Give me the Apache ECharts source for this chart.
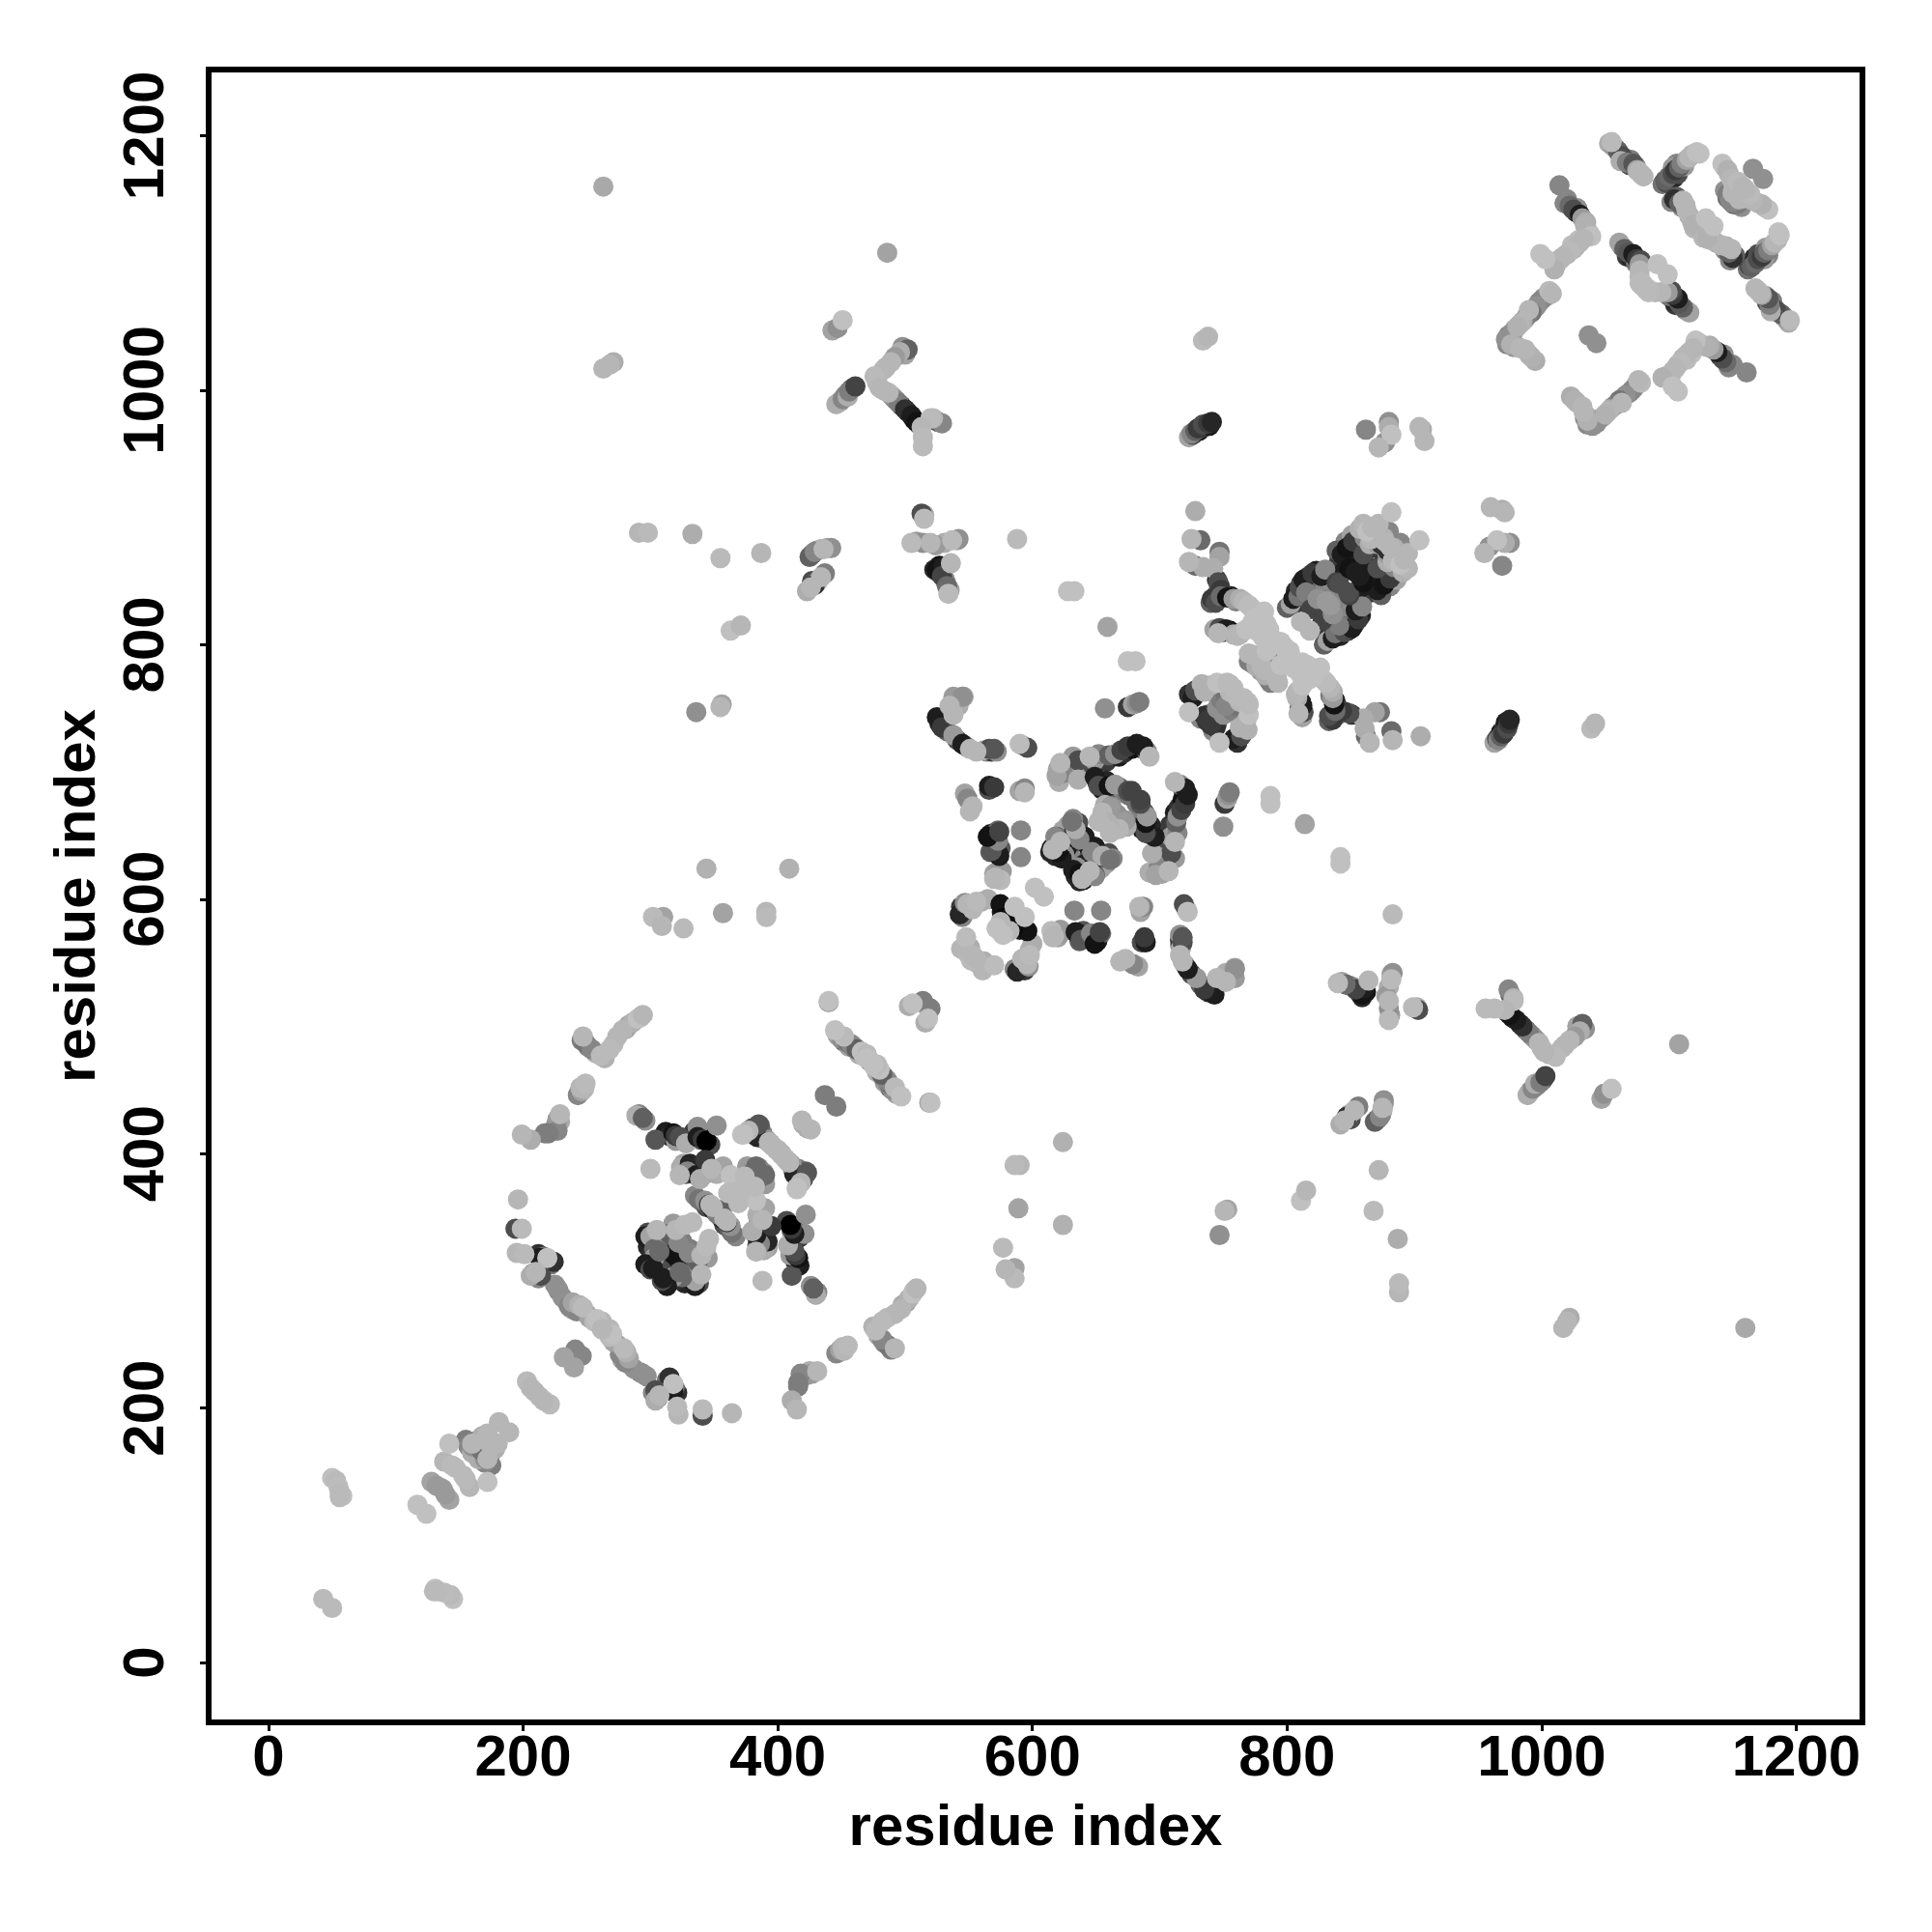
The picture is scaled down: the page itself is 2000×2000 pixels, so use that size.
<!DOCTYPE html>
<html><head><meta charset="utf-8">
<style>html,body{margin:0;padding:0;background:#fff}#c{width:2000px;height:2000px}</style>
<script src="https://cdn.jsdelivr.net/npm/echarts@6/dist/echarts.min.js"></script>
</head><body><div id="c"></div>
<script>
const tickValues = [0,200,400,600,800,1000,1200];
const axisTitle = 'residue index';
// Contacts as [i, j, strength]; the map is symmetric, so each is drawn at (i,j) and (j,i).
const farContacts = [[263,1160,12],[486,1108,15],[263,1017,5],[268,1020,5],[271,1022,10],[443,1047,15],[447,1049,25],[451,1055,0],
[734,1039,3],[738,1042,5],[291,888,5],[298,888,3],[333,887,10],[355,868,3],[387,872,5],[363,811,0],[371,815,5],[336,747,25],[355,751,5],[356,753,15],
[588,883,3],[628,842,0],[633,842,0],[659,814,15],[675,787,0],[681,787,0],[344,624,8],[409,624,8],[302,586,3],[310,586,15],[309,579,5],[326,577,3],[357,589,15],[391,590,5],[391,586,3]];
const strandAFine = [[498,1034,25],[500,1028,15],[489,1022,5],[483,1016,5],[478,1006,5],[483,1000,5],[489,996,15],[493,992,30],[497,988,55],[502,983,85],[507,977,95],[511,973,40],[526,975,35],[522,978,5],[458,1001,55],[453,996,25],[449,991,15],[427,871,60],[431,874,35],[434,875,10],[439,876,15],[427,850,60],[431,849,10],[434,853,5],[515,902,10],[526,857,70],[531,852,20],[532,849,30],[527,862,90],[535,843,15],[520,880,5],[531,880,10],[541,882,10]];
const strandA = [[502,1032,50],[496,1030,10],[492,1026,20],[485,1018,10],[476,1011,3],[480,1002,5],[487,998,5],[491,994,25],[495,990,35],[500,985,75],[505,980,85],[509,975,90],[520,978,3],[524,976,50],[529,974,30],[513,971,5],[514,963,3],[514,956,3],
[446,989,10],[451,993,30],[455,995,10],[456,999,35],[461,1003,65],
[436,875,5],[425,869,50],[429,873,30],[442,876,25],[423,842,10],[429,847,75],[426,845,5],[437,856,35],
[513,903,60],[515,899,3],[505,880,3],[509,881,20],[514,880,25],[524,878,20],[537,882,3],[542,883,25],[523,859,80],[525,859,90],[530,861,85],[529,854,65],[533,846,45],[536,864,5],[534,840,3]];
const domainOneOuterFine = [[228,292,30],[234,284,20],[238,278,15],[244,281,8],[250,274,15],[256,268,3],[225,297,25],[242,276,30],[262,268,5],[229,425,10],[226,423,25],[223,418,25],[245,452,5],[244,448,20],[212,321,75],[216,319,40],[208,306,25],[212,302,30],[222,313,40],[246,489,35],[251,484,30],[257,479,10],[264,475,8],[271,486,3],[274,492,5],[281,498,10],[286,503,8],[292,507,5],[447,493,15],[452,488,50],[456,484,15],[460,483,40],[464,478,10],[468,476,3],[473,472,25],[477,468,40],[480,465,30],[484,460,25],[486,458,20],[492,452,3]];
const domainOneOuter = [[248,451,5],[243,446,30],[246,449,15],[229,431,5],[227,427,20],[227,418,30],[220,416,35],[217,416,35],[199,415,5],[206,411,10],
[196,364,5],[194,341,60],[199,341,3],[195,322,5],[201,321,3],[213,318,85],[219,318,0],[224,315,75],[214,304,60],[206,304,10],[210,307,5],
[227,294,25],[231,287,25],[236,280,30],[239,283,15],[247,279,3],[252,271,15],[258,270,0],[262,262,5],[241,246,30],[232,240,15],[203,221,3],[206,216,5],[209,213,5],
[247,492,5],[249,487,40],[254,482,30],[261,477,3],[268,482,3],[278,497,5],[283,501,15],[290,506,0],[294,509,5],[249,455,3],
[445,497,0],[450,490,25],[455,487,40],[458,485,30],[462,482,50],[466,480,0],[470,478,3],[475,470,0],
[503,516,10],[515,518,25],[518,506,0],[520,514,35],[440,519,15],[440,520,0],[437,446,35],[419,426,5],[420,423,10]];
const domainOneCoreFine = [[291,431,30],[296,426,25],[312,417,85],[315,414,80],[320,410,20],[326,411,40],[334,417,70],[339,411,30],[342,414,85],[347,407,60],[326,392,15],[328,384,60],[333,388,25],[340,389,85],[345,385,30],[352,384,10],[298,338,60],[298,327,80],[301,321,75],[299,315,70],[305,340,5],[312,338,25],[310,325,30],[312,315,60],[320,340,5],[322,335,15],[320,328,55],[305,312,40],[309,307,75],[315,308,60],[344,358,60],[349,356,80],[352,353,35],[358,349,5],[360,347,5],[335,367,30],[341,362,50],[377,418,5],[380,420,60],[388,416,35],[393,409,5],[399,403,5],[403,400,5],[408,394,35],[412,388,50],[417,380,25],[376,390,20],[380,385,40],[372,378,3]];
const domainOneCore = [[289,430,10],[294,428,50],[304,411,55],[318,416,90],[320,414,70],[323,413,60],[328,408,10],[337,421,25],[337,413,85],[341,411,70],[344,410,100],[352,422,25],
[300,388,3],[324,389,10],[323,383,5],[331,392,80],[329,386,30],[336,383,85],[343,395,70],[339,380,10],[348,388,5],[357,390,15],[363,383,0],[374,382,3],
[372,415,0],[384,413,85],[386,422,50],[391,411,15],[396,406,0],[406,396,5],[410,392,25],[414,383,80],[423,385,55],[415,373,0],
[385,389,30],[390,383,45],[382,373,15],[368,370,3],[361,369,3],[338,364,40],[343,363,25],[346,360,70],[356,356,50],
[296,335,85],[300,335,15],[303,325,45],[303,318,20],[296,313,85],[300,309,60],[318,345,20],[315,337,50],[327,344,3],[333,346,3],[318,321,90],[325,331,35],[302,310,85],[307,323,45],[330,322,30]];
const diagonalStartFine = [[155,175,35],[157,170,30],[160,165,10],[165,175,35],[170,170,25],[178,172,5],[165,160,10],[172,160,5]];
const diagonalStart = [[43,50,3],[50,145,0],[53,143,3],[55,138,2],[58,131,0],[130,56,3],[133,56,3],[117,124,0],[128,142,15],[132,139,20],[137,136,20],[138,158,5],[142,172,0],[144,155,3],[147,153,3],
[160,170,25],[163,172,30],[167,167,40],[168,178,10],[172,177,20],[172,180,5],[175,170,5],[181,189,5]];
const domainTwoLeftFine = [[542,752,10],[535,752,5],[527,738,80],[533,732,50],[541,725,60],[548,720,30],[556,716,5],[564,716,30],[568,716,70],[572,716,25],[566,686,60],[594,684,5],[576,590,85],[582,575,5],[580,583,85],[578,578,50],[549,596,5],[553,592,5],[560,598,10],[545,586,30],[544,561,5],[550,556,5],[552,552,3],[615,575,3],[640,575,55],[651,570,85],[637,571,80],[620,570,15]];
const domainTwoLeft = [[546,759,15],[538,759,20],[545,759,25],[538,745,5],[525,743,85],[529,735,70],[538,729,20],[545,722,85],[551,718,5],[562,717,10],[566,718,60],[570,718,55],
[590,722,2],[592,721,20],[596,719,60],[566,689,85],[570,688,70],[590,685,15],[594,687,30],[547,683,15],[549,679,30],[553,673,5],[551,669,5],
[567,651,85],[573,654,45],[591,654,30],[567,637,50],[573,636,85],[591,633,30],[570,616,5],[572,618,30],[576,622,20],[602,609,0],
[544,594,70],[543,588,80],[547,597,25],[556,598,3],[565,600,10],[575,596,90],[577,585,95],[586,594,0],[572,577,2],[577,572,0],[548,570,2],[547,563,10],[556,553,5],[562,551,10],
[617,571,5],[622,573,20],[634,574,85],[638,568,55],[646,573,30],[649,565,90],[653,574,65],[657,750,25],[675,751,70],[679,753,15],[682,754,25],[684,755,35]];
const domainTwoCoreFine = [[620,702,15],[626,704,10],[621,692,10],[634,706,30],[638,700,20],[645,712,5],[647,706,60],[655,710,70],[658,708,70],[668,712,85],[672,715,75],[678,718,90],[684,719,90],[690,716,30],[651,692,70],[655,686,85],[658,693,80],[662,686,60],[668,688,60],[671,685,35],[679,680,60],[682,675,40],[655,668,5],[664,668,30],[659,660,8],[668,660,10],[629,658,50],[622,651,70],[615,640,85],[621,645,50],[628,640,15],[630,633,30],[636,660,60],[639,645,85],[644,643,90],[645,633,60],[640,627,85],[634,618,80],[645,622,5],[652,627,10],[658,628,20]];
const domainTwoCore = [[622,707,5],[624,699,30],[619,697,15],[632,712,20],[636,709,60],[636,694,10],[649,709,20],[652,714,30],[660,713,50],[665,714,25],[670,717,65],[675,720,70],[682,722,85],[687,720,85],[692,712,5],
[649,696,85],[652,689,60],[660,689,90],[665,690,20],[675,685,60],[685,678,65],[657,674,10],[662,673,25],[667,666,25],[652,661,5],[672,661,20],[661,653,5],
[632,663,30],[624,654,15],[619,649,60],[617,641,70],[614,637,80],[625,635,25],[633,656,85],[636,651,90],[641,649,60],[649,641,85],[647,637,30],[632,623,85],[637,620,90],[639,616,5],[649,618,30],[655,634,10],[661,631,40]];
const strandCrossFine = [[800,829,50],[806,832,70],[807,842,80],[811,848,75],[816,853,65],[817,848,30],[823,858,85],[826,850,45],[830,845,30],[835,850,25],[828,829,70],[821,831,85],[833,826,85],[838,836,40],[843,838,30],[841,866,70],[845,858,85],[852,866,85],[855,874,70],[858,860,30],[855,878,40],[846,881,30],[851,886,15],[857,891,8],[860,895,5],[866,883,5],[869,889,5],[875,883,25],[883,880,10],[884,876,8],[880,869,40],[876,866,70],[870,860,90],[866,857,85],
[745,851,75],[747,846,85],[751,839,70],[745,840,50],[740,833,50],[756,838,85],[760,834,35],[766,834,5],[772,829,0],[750,810,75],[755,811,90],[761,807,5],[765,810,2],[743,812,15],[773,818,0],[778,816,0],[786,812,0],[788,805,0],[790,800,0],[779,822,0],[798,798,0],[774,792,5],[773,785,25],[780,779,20],[783,780,5],[730,765,60],[733,769,8],[740,768,8],[738,745,50],[740,741,80],[732,742,30],[735,744,75],[750,765,15],[755,763,5],[760,760,3],[748,764,30],[723,963,15],[726,965,60],[731,968,85],[735,971,70],[739,972,85]];
const strandCross = [[725,966,30],[728,968,50],[730,970,70],[734,973,60],[738,974,70],[741,975,80],[862,969,30],[880,975,25],[880,971,10],[882,965,0],[877,959,25],[872,955,5],[904,971,5],[906,969,10],[908,960,5],
[728,905,10],[725,883,5],[732,882,45],[723,865,5],[728,862,45],[734,861,10],[747,873,40],[747,869,15],[742,860,10],
[746,849,60],[748,843,70],[741,836,70],[744,833,60],[748,838,45],[753,837,90],[758,836,20],[763,836,10],[770,831,2],
[747,813,60],[752,812,85],[746,809,5],[758,808,10],[763,808,5],[768,812,0],[775,821,0],[782,826,0],[784,816,0],[776,811,0],[781,806,0],[795,802,0],[802,795,0],
[770,793,5],[770,787,35],[776,783,10],[786,793,30],[795,784,0],
[803,832,15],[805,836,85],[809,838,40],[810,845,60],[813,851,85],[815,841,35],[819,828,65],[811,818,5],[820,856,70],[827,854,85],[830,859,30],[824,836,25],[834,831,20],[839,849,65],[848,841,60],[839,874,50],[843,871,85],[847,876,90],[852,881,70],[849,860,90],[857,854,85],[860,871,60],[861,884,30],[865,879,10],[863,889,0],[867,892,5],[872,895,5],[880,889,30],[871,879,20],[879,874,75],[877,881,5],[882,904,0],
[723,761,75],[726,758,85],[728,764,60],[723,747,0],[737,740,70],[741,738,70],[735,763,8],[741,763,10],[745,750,25],[748,757,35],[752,760,40],[752,752,30],[745,770,0],[753,770,3],[758,766,3],[755,769,3]];
const domainThreeFine = [[1006,1078,3],[1002,1073,15],[998,1069,30],[994,1064,35],[990,1063,5],[987,1056,20],[983,1052,5],[979,1048,15],[974,1043,30],[973,1036,30],[976,1036,8],[978,1034,25],[983,1033,5],[990,1028,5],[992,1026,8],
[1037,1124,3],[1030,1116,3],[1025,1111,8],[1020,1107,10],[1015,1103,5],[1011,1098,15],[1035,1126,5],[1029,1118,0],[1024,1114,2],
[1055,1195,3],[1058,1190,35],[1061,1186,40],[1065,1182,15],[1069,1177,60],[1074,1176,30],[1070,1181,35],[1076,1172,5],[1080,1168,5],
[1095,1162,40],[1098,1163,60],[1101,1165,75],[1104,1167,80],[1107,1170,60],[1112,1176,20],[1116,1183,5],[1120,1186,0],[1124,1186,0],[1106,1178,30],[1103,1175,20],
[1106,1152,50],[1102,1148,30],[1110,1144,30],[1114,1141,5],[1118,1133,5],[1120,1127,5],[1111,1149,5],
[1144,1175,3],[1147,1170,5],[1148,1160,15],[1144,1157,25],[1146,1151,45],[1150,1153,15],[1155,1150,5],[1151,1160,3],[1156,1152,5],
[1063,1113,35],[1067,1105,70],[1070,1104,80],[1074,1100,40],[1077,1094,5],[1080,1083,3],[1082,1079,3],
[1020,1150,30],[1024,1143,70],[1027,1140,80],[1028,1143,25],[1034,1130,8]];
const domainThree = [[1014,1161,30],[1018,1147,30],[1022,1145,45],[1025,1142,60],[1030,1138,85],[1032,1135,20],[1035,1132,10],[1039,1121,0],[1033,1119,5],[1027,1113,5],[1022,1109,3],[1017,1105,5],[1013,1102,5],[1010,1095,8],[999,1107,0],[1003,1103,0],
[1053,1194,10],[1056,1192,20],[1060,1188,50],[1063,1184,60],[1062,1180,10],[1067,1179,35],[1072,1178,55],[1075,1173,15],[1078,1170,5],
[1097,1165,50],[1100,1168,45],[1103,1170,60],[1105,1173,70],[1108,1175,50],[1110,1178,35],[1114,1181,15],[1118,1185,5],[1122,1187,0],
[1104,1150,75],[1108,1147,50],[1113,1145,10],[1116,1137,10],[1119,1130,8],[1129,1135,0],
[1142,1178,0],[1146,1173,8],[1149,1166,5],[1146,1154,35],[1151,1150,30],[1149,1148,30],[1153,1157,5],[1154,1164,3],[1158,1160,5],[1166,1174,25],
[1061,1116,15],[1065,1111,50],[1068,1108,55],[1072,1107,85],[1075,1103,70],[1078,1102,60],[1077,1099,20],[1077,1089,5],[1077,1084,2],[1085,1078,3],[1091,1099,0],
[1008,1076,5],[1004,1074,10],[1000,1071,30],[996,1066,25],[992,1061,40],[989,1059,35],[985,1054,10],[981,1050,8],[977,1045,25],[975,1038,35],[976,1041,20],[972,1040,25],[980,1035,15],[987,1032,5],[995,1023,10],[1037,1043,25]];

const contacts = [farContacts,strandAFine,strandA,domainOneOuterFine,domainOneOuter,domainOneCoreFine,domainOneCore,diagonalStartFine,diagonalStart,domainTwoLeftFine,domainTwoLeft,domainTwoCoreFine,domainTwoCore,strandCrossFine,strandCross,domainThreeFine,domainThree].flat();
// Paint order: the palest contacts go over the rest; everything else keeps its reading order.
const strong = contacts.filter(function(c){ return c[2] >= 9; });
const pale = contacts.filter(function(c){ return c[2] < 9; });
const points = [];
strong.concat(pale).forEach(function(c){ points.push([c[0],c[1],c[2]]); points.push([c[1],c[0],c[2]]); });

const font = {fontFamily:'"Liberation Sans",Arial,sans-serif',fontWeight:'bold',fontSize:60,color:'#000'};
function axis(nameGap,rotate,labelMargin){
  return {type:'value',min:-47,max:1252,name:axisTitle,nameLocation:'middle',nameGap:nameGap,
    nameTextStyle:font,splitLine:{show:false},axisLine:{show:false,onZero:false},
    axisTick:{show:true,length:9,lineStyle:{color:'#000',width:3},customValues:tickValues},
    axisLabel:Object.assign({},font,{rotate:rotate,margin:labelMargin,customValues:tickValues,hideOverlap:false,showMinLabel:true,showMaxLabel:true,formatter:function(v){return String(v);}})};
}
const chart = echarts.init(document.getElementById('c'),null,{renderer:'canvas'});
chart.setOption({animation:false,backgroundColor:'#fff',
  grid:{left:216,right:72,top:72,bottom:217,show:true,borderColor:'#000',borderWidth:6,backgroundColor:'transparent'},
  xAxis:axis(80,0,8),yAxis:axis(105,90,34),
  visualMap:{show:false,type:'continuous',min:0,max:100,dimension:2,seriesIndex:0,inRange:{color:['#c0c0c0','#000000']}},
  series:[{type:'scatter',data:points,symbol:'circle',symbolSize:21,itemStyle:{opacity:1},emphasis:{disabled:true}}]});
</script></body></html>
